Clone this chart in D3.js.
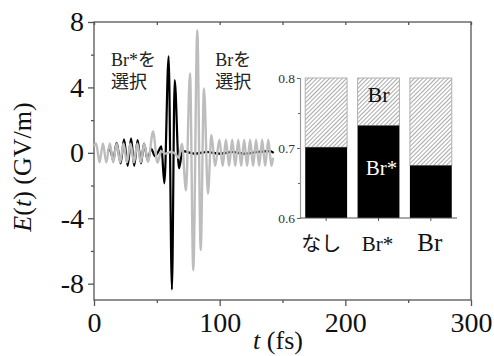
<!DOCTYPE html>
<meta charset="utf-8">
<style>
body { margin: 0; background: #fff; }
svg text { font-family: "Liberation Serif", "Noto Sans CJK JP", serif; }
svg text.jp { font-family: "Noto Sans CJK JP", sans-serif; }
</style>
<body>
<script src="https://d3js.org/d3.v7.min.js"></script>
<script>

// field selecting Br* (black) - turning points, t (fs), E (GV/m)
var blackT = [11, 12.6, 15.3, 18.0, 21.2, 23.9, 26.8, 29.5, 32.0, 34.7, 37.4, 39.8, 42.7, 45.5, 48.5, 51.0, 53.6, 56.0, 59.4, 62.0, 64.2, 67.6, 70.5, 80, 90, 100, 110, 120, 130, 140, 143];
var blackE = [0, 0.3, -0.45, 0.61, -0.65, 0.82, -0.8, 0.88, -0.8, 0.78, -0.65, 0.57, -0.45, 0.25, -0.2, 0.05, 0.4, -1.87, 5.9, -8.36, 4.45, -0.95, 0.1, -0.05, 0.05, -0.05, 0.05, -0.05, 0.05, 0.1, 0];

// field selecting Br (gray)
var grayT = [0, 1.7, 4.4, 7.1, 9.8, 12.6, 15.3, 18.0, 20.8, 23.5, 26.2, 29.0, 31.8, 34.5, 37.2, 40.0, 43.0, 47.0, 50.5, 53.5, 57.0, 61.0, 64.5, 67.3, 70.0, 73.2, 76.4, 79.0, 82.2, 84.9, 87.5, 90.7, 93.4, 96.4, 99.8, 102.4, 105.0, 107.5, 110.0, 112.4, 114.8, 117.1, 119.5, 121.8, 124.2, 126.6, 129.0, 131.4, 133.8, 136.2, 138.7, 141.2, 142.5];
var grayE = [0.4, 0.58, -0.58, 0.58, -0.58, 0.58, -0.58, 0.58, -0.58, 0.58, -0.58, 0.58, -0.58, 0.58, -0.58, 0.58, -0.55, 1.3, -0.6, 0.1, -0.05, 0.05, -0.05, -0.3, 0.55, -2.3, 4.86, -7.18, 7.5, -5.95, 3.94, -2.5, 1.1, -0.8, 0.8, -0.8, 0.8, -0.8, 0.8, -0.8, 0.8, -0.8, 0.8, -0.8, 0.8, -0.8, 0.8, -0.8, 0.8, -0.8, 0.8, -0.8, -0.3];

var xTicks = [0, 100, 200, 300];
var xMinor = [50, 150, 250];
var yTicks = [-8, -4, 0, 4, 8];
var yMinor = [-6, -2, 2, 6];

// inset: Br* share per case, rest is Br
var barCats = ["なし", "Br*", "Br"];
var barBrStar = [0.701, 0.732, 0.675];
var insetTicks = [0.6, 0.7, 0.8];
var insetMinor = [0.65, 0.75];

var W = 494, H = 356;
var serif = '"Liberation Serif", "Times New Roman", serif';
var svg = d3.select("body").append("svg").attr("width", W).attr("height", H);

var x = d3.scaleLinear().domain([0, 300]).range([94, 471]);
var y = d3.scaleLinear().domain([-9, 8]).range([300, 22]);

var defs = svg.append("defs");
var pat = defs.append("pattern")
    .attr("id", "hatch")
    .attr("patternUnits", "userSpaceOnUse")
    .attr("width", 3).attr("height", 3)
    .attr("patternTransform", "rotate(45)");
pat.append("rect").attr("width", 3).attr("height", 3).attr("fill", "#fff");
pat.append("line").attr("x1", 0.5).attr("y1", 0).attr("x2", 0.5).attr("y2", 3)
    .attr("stroke", "#a0a0a0").attr("stroke-width", 0.9);

// frame
svg.append("rect")
    .attr("x", x(0)).attr("y", y(8))
    .attr("width", x(300) - x(0)).attr("height", y(-9) - y(8))
    .attr("fill", "none").attr("stroke", "#555").attr("stroke-width", 1.3);

function styleAxis(g, size) {
  g.attr("font-family", null);
  g.select(".domain").remove();
  g.selectAll(".tick line").attr("stroke", "#555").attr("stroke-width", 1.3);
  g.selectAll(".tick text")
    .style("font-family", serif)
    .style("font-size", size + "px")
    .attr("fill", "#111");
}

svg.append("g").attr("transform", "translate(0," + y(-9) + ")")
    .call(d3.axisBottom(x).tickValues(xTicks).tickSize(6).tickPadding(6).tickFormat(d => String(d)))
    .call(g => styleAxis(g, 28));
svg.append("g").attr("transform", "translate(0," + y(-9) + ")")
    .call(d3.axisBottom(x).tickValues(xMinor).tickSize(3).tickFormat(""))
    .call(g => styleAxis(g, 28));
svg.append("g").attr("transform", "translate(0," + y(8) + ")")
    .call(d3.axisBottom(x).tickValues(xTicks.concat(xMinor)).tickSize(3).tickFormat(""))
    .call(g => styleAxis(g, 28));
svg.append("g").attr("transform", "translate(" + x(0) + ",0)")
    .call(d3.axisLeft(y).tickValues(yTicks).tickSize(6).tickPadding(4).tickFormat(d => String(d)))
    .call(g => styleAxis(g, 28));
svg.append("g").attr("transform", "translate(" + x(0) + ",0)")
    .call(d3.axisLeft(y).tickValues(yMinor).tickSize(3).tickFormat(""))
    .call(g => styleAxis(g, 28));

// waveforms
var line = d3.line()
    .x(d => x(d[0]))
    .y(d => y(d[1]))
    .curve(d3.curveMonotoneX);

svg.append("path")
    .datum(d3.zip(blackT, blackE))
    .attr("fill", "none").attr("stroke", "#000").attr("stroke-width", 2.2)
    .attr("d", line);
svg.append("path")
    .datum(d3.zip(grayT, grayE))
    .attr("fill", "none").attr("stroke", "#bdbdbd").attr("stroke-width", 2.4)
    .attr("d", line);

// annotations
var notes = [
  {t: 13.5, e: 5.3, s: "Br*を"}, {t: 13.5, e: 3.95, s: "選択"},
  {t: 96.5, e: 5.3, s: "Brを"}, {t: 96.5, e: 3.95, s: "選択"}
];
svg.selectAll(".note").data(notes).enter().append("text")
    .attr("class", "note")
    .attr("x", d => x(d.t)).attr("y", d => y(d.e))
    .style("font-size", "18px").attr("fill", "#222")
    .text(d => d.s);

// axis titles
var yt = svg.append("text")
    .attr("transform", "translate(31,167) rotate(-90)")
    .attr("text-anchor", "middle").style("font-size", "26px").attr("fill", "#111");
yt.append("tspan").attr("font-style", "italic").text("E");
yt.append("tspan").text("(");
yt.append("tspan").attr("font-style", "italic").text("t");
yt.append("tspan").text(") (GV/m)");

var xt = svg.append("text")
    .attr("x", 278).attr("y", 349)
    .attr("text-anchor", "middle").style("font-size", "26px").attr("fill", "#111");
xt.append("tspan").attr("font-style", "italic").text("t");
xt.append("tspan").text(" (fs)");

// inset bar chart
var ix = d3.scaleBand().domain(barCats).range([300, 457]).paddingInner(0.2).paddingOuter(0.1);
var iy = d3.scaleLinear().domain([0.6, 0.8]).range([218, 78]);
var bars = barCats.map((c, i) => ({c: c, v: barBrStar[i]}));

var inset = svg.append("g");
inset.selectAll(".top").data(bars).enter().append("rect")
    .attr("x", d => ix(d.c)).attr("width", ix.bandwidth())
    .attr("y", iy(0.8)).attr("height", d => iy(d.v) - iy(0.8))
    .attr("fill", "url(#hatch)").attr("stroke", "#b0b0b0").attr("stroke-width", 1);
inset.selectAll(".bot").data(bars).enter().append("rect")
    .attr("x", d => ix(d.c)).attr("width", ix.bandwidth())
    .attr("y", d => iy(d.v)).attr("height", d => iy(0.6) - iy(d.v))
    .attr("fill", "#000");

inset.append("g").attr("transform", "translate(300,0)")
    .call(d3.axisLeft(iy).tickValues(insetTicks).tickSize(3).tickPadding(2).tickFormat(d3.format(".1f")))
    .call(g => {
      g.select(".domain").attr("stroke", "#999").attr("stroke-width", 1.2);
      g.selectAll(".tick line").attr("stroke", "#666");
      g.selectAll(".tick text").style("font-size", "13.5px").style("font-family", serif).attr("fill", "#333");
    });
inset.append("g").attr("transform", "translate(300,0)")
    .call(d3.axisLeft(iy).tickValues(insetMinor).tickSize(2).tickFormat(""))
    .call(g => { g.select(".domain").remove(); g.selectAll(".tick line").attr("stroke", "#666"); });

inset.append("g").attr("transform", "translate(0,218)")
    .call(d3.axisBottom(ix).tickSize(3).tickFormat(""))
    .call(g => {
      g.select(".domain").attr("stroke", "#555").attr("stroke-width", 1.2).attr("d", "M300,0H457");
      g.selectAll(".tick line").attr("stroke", "#555");
    });

var labelSize = [20, 21, 25];
inset.selectAll(".cat").data(bars).enter().append("text")
    .attr("class", (d, i) => i === 0 ? "cat jp" : "cat")
    .attr("x", (d, i) => ix(d.c) + ix.bandwidth() / 2 - (i === 0 ? 5 : 1))
    .attr("y", 251)
    .attr("text-anchor", "middle")
    .style("font-size", (d, i) => labelSize[i] + "px")
    .attr("fill", "#111")
    .text(d => d.c);

// part labels inside the Br* bar
var mid = ix("Br*") + ix.bandwidth() / 2;
inset.append("text").attr("x", mid).attr("y", iy(0.7655))
    .attr("text-anchor", "middle").style("font-size", "22px").attr("fill", "#111").text("Br");
inset.append("text").attr("x", mid + 3).attr("y", iy(0.6615))
    .attr("text-anchor", "middle").style("font-size", "21px").attr("fill", "#fff").text("Br*");

</script>
</body>
